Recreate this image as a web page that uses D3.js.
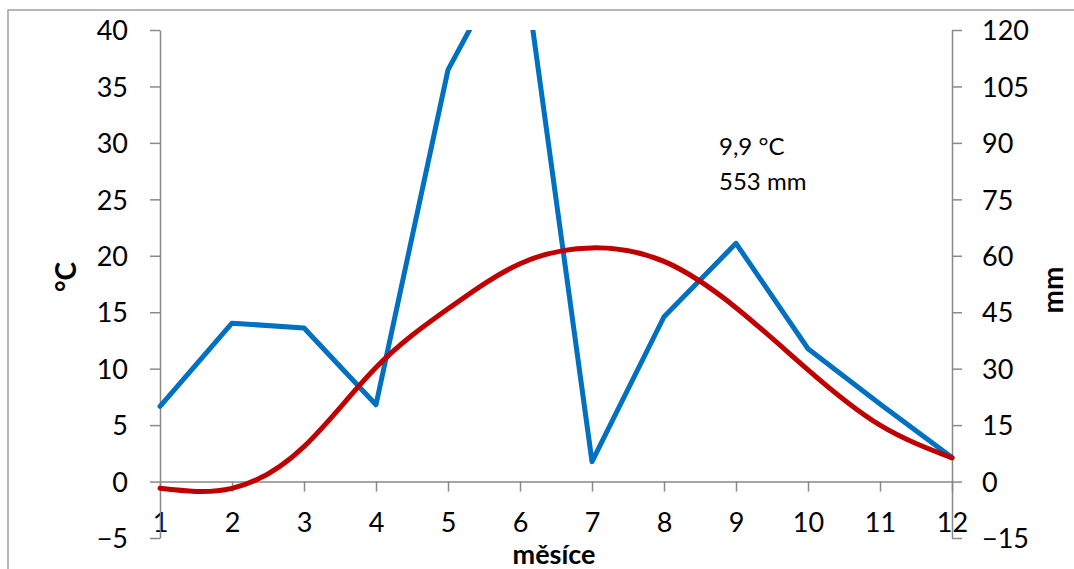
<!DOCTYPE html>
<html>
<head>
<meta charset="utf-8">
<script src="https://cdn.jsdelivr.net/npm/d3@7"></script>
<style>
  body { margin: 0; background: #fff; }
  svg { display: block; font-family: Lato, "Open Sans", sans-serif; }
</style>
</head>
<body>
<svg id="chart" width="1074" height="569"></svg>
<script>
// monthly climate normals: temperature (°C, left axis) and precipitation (mm, right axis)
const months = [1, 2, 3, 4, 5, 6, 7, 8, 9, 10, 11, 12];
const temperature = [-0.6, -0.6, 3.1, 10.1, 15.3, 19.3, 20.7, 19.5, 15.4, 9.9, 5.0, 2.1];
const precipitation = [20, 42.1, 40.8, 20.4, 109.4, 145, 5.3, 43.8, 63.3, 35.3, 20.6, 6.4];
const tempTicks = [-5, 0, 5, 10, 15, 20, 25, 30, 35, 40];
const precipTicks = [-15, 0, 15, 30, 45, 60, 75, 90, 105, 120];
const summary = ["9,9 °C", "553 mm"];

const svg = d3.select("#chart");
const plot = { left: 160, right: 952, top: 30, bottom: 538 };
const axisColor = "#898989";

const x = d3.scaleLinear().domain([1, 12]).range([plot.left, plot.right]);
const yTemp = d3.scaleLinear().domain([-5, 40]).range([plot.bottom, plot.top]);
const yPrec = d3.scaleLinear().domain([-15, 120]).range([plot.bottom, plot.top]);

// chart frame
svg.append("rect").attr("x", 8).attr("y", 10).attr("width", 1100).attr("height", 600)
    .attr("fill", "none").attr("stroke", "#a0a0a0").attr("stroke-width", 1.5);

function styleAxis(g) {
    g.select(".domain").attr("stroke", axisColor).attr("stroke-width", 1.5);
    g.selectAll(".tick line").attr("stroke", axisColor).attr("stroke-width", 1.5);
    g.selectAll(".tick text").attr("fill", "#000").style("font-size", "27px").style("font-family", "Lato");
}

svg.append("g").attr("transform", `translate(0,${yTemp(0)})`)
    .call(d3.axisBottom(x).tickValues(months).tickFormat(d3.format("d")).tickSize(10).tickSizeOuter(0).tickPadding(21))
    .call(styleAxis);

svg.append("g").attr("transform", `translate(${plot.left},0)`)
    .call(d3.axisLeft(yTemp).tickValues(tempTicks).tickSize(10).tickSizeOuter(0).tickPadding(22))
    .call(styleAxis)
    .selectAll(".tick text").attr("dy", "0.36em");

svg.append("g").attr("transform", `translate(${plot.right},0)`)
    .call(d3.axisRight(yPrec).tickValues(precipTicks).tickSize(10).tickSizeOuter(0).tickPadding(20))
    .call(styleAxis)
    .selectAll(".tick text").attr("dy", "0.36em");

// keep the series inside the value range vertically
svg.append("clipPath").attr("id", "plot-clip")
    .append("rect").attr("x", 0).attr("y", plot.top).attr("width", 1074).attr("height", plot.bottom - plot.top);

const series = svg.append("g").attr("clip-path", "url(#plot-clip)");

const precipLine = d3.line().x((d, i) => x(months[i])).y(d => yPrec(d));
series.append("path").datum(precipitation).attr("d", precipLine)
    .attr("fill", "none").attr("stroke", "#0070C0").attr("stroke-width", 5)
    .attr("stroke-linejoin", "round").attr("stroke-linecap", "round");

const tempLine = d3.line().x((d, i) => x(months[i])).y(d => yTemp(d)).curve(d3.curveNatural);
series.append("path").datum(temperature).attr("d", tempLine)
    .attr("fill", "none").attr("stroke", "#C00000").attr("stroke-width", 5)
    .attr("stroke-linejoin", "round").attr("stroke-linecap", "round");

// axis titles
svg.append("text").attr("transform", "translate(76,277) rotate(-90)").attr("text-anchor", "middle")
    .style("font-size", "28px").style("font-weight", "700").text("°C");
svg.append("text").attr("transform", "translate(1063,290) rotate(-90)").attr("text-anchor", "middle")
    .style("font-size", "28px").style("font-weight", "700").text("mm");
svg.append("text").attr("x", 554).attr("y", 564).attr("text-anchor", "middle")
    .style("font-size", "27px").style("font-weight", "700").text("měsíce");

// annual mean temperature and total precipitation
svg.selectAll(".summary").data(summary).join("text").attr("class", "summary")
    .attr("x", 719).attr("y", (d, i) => 155 + i * 35)
    .style("font-size", "24px").text(d => d);
</script>
</body>
</html>
